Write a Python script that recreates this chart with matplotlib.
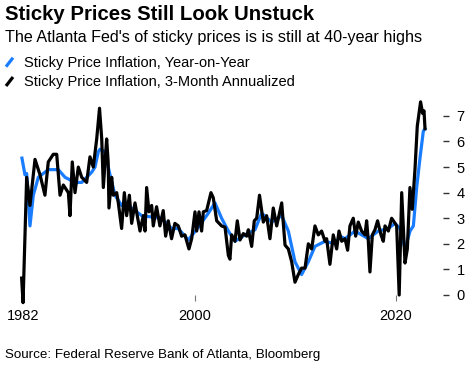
import matplotlib
matplotlib.use("Agg")
import matplotlib.pyplot as plt
from matplotlib.lines import Line2D

plt.rcParams['font.family'] = ['Liberation Sans', 'DejaVu Sans']

# --------------------------------------------------
# Data (decimal years, percent)
# --------------------------------------------------
yoy_years = [1982.78, 1983.08, 1983.25, 1983.58, 1983.91, 1984.41, 1985.40, 1986.40,
             1987.07, 1988.06, 1988.73, 1989.72, 1990.05, 1990.38, 1990.55, 1991.04,
             1991.54, 1992.04, 1992.70, 1993.70, 1994.70, 1995.69, 1996.68, 1997.67,
             1998.33, 1999.34, 2000.33, 2001.33, 2001.99, 2002.65, 2003.32, 2003.98,
             2004.97, 2005.97, 2006.63, 2007.63, 2008.63, 2009.29, 2009.95, 2010.61,
             2011.28, 2011.94, 2012.94, 2013.93, 2014.43, 2014.93, 2015.92, 2017.25,
             2018.24, 2019.24, 2019.90, 2020.40, 2020.90, 2021.40, 2021.73, 2022.06,
             2022.39, 2022.72, 2022.89]
yoy_values = [5.35, 4.7, 4.75, 2.7, 3.9, 4.6, 4.9, 4.9,
              4.6, 4.4, 4.4, 4.8, 5.0, 5.6, 5.7, 5.6,
              4.7, 3.9, 3.5, 3.4, 3.1, 3.05, 3.0, 2.6,
              2.6, 2.15, 2.65, 3.2, 3.6, 3.0, 2.5, 2.1,
              2.35, 2.55, 3.2, 2.85, 3.1, 2.5, 1.3, 0.8,
              1.3, 1.9, 2.1, 2.0, 2.3, 2.2, 2.5, 2.2,
              2.5, 2.6, 2.8, 2.6, 1.8, 2.5, 2.7, 4.2,
              5.35, 6.4, 6.5]

ann_years = [1982.75, 1982.89, 1983.25, 1983.58, 1984.08, 1984.58, 1985.07, 1985.40,
             1985.90, 1986.24, 1986.57, 1986.90, 1987.40, 1987.56, 1987.79, 1988.06,
             1988.39, 1988.73, 1989.22, 1989.55, 1989.88, 1990.22, 1990.50, 1990.72,
             1990.88, 1991.21, 1991.36, 1991.44, 1991.71, 1991.87, 1992.21, 1992.37,
             1992.70, 1992.97, 1993.20, 1993.47, 1993.70, 1994.03, 1994.53, 1994.86,
             1995.03, 1995.19, 1995.42, 1995.69, 1995.85, 1996.18, 1996.51, 1996.84,
             1997.08, 1997.34, 1997.67, 1998.00, 1998.34, 1998.67, 1999.00, 1999.40,
             1999.67, 2000.00, 2000.17, 2000.40, 2000.66, 2000.83, 2001.16, 2001.59,
             2001.82, 2002.16, 2002.65, 2002.99, 2003.32, 2003.48, 2003.65, 2003.98,
             2004.21, 2004.48, 2004.81, 2005.14, 2005.31, 2005.64, 2005.90, 2006.14,
             2006.42, 2006.80, 2007.13, 2007.46, 2007.79, 2008.13, 2008.63, 2008.96,
             2009.29, 2009.62, 2009.95, 2010.28, 2010.61, 2010.95, 2011.28, 2011.61,
             2011.94, 2012.27, 2012.60, 2012.94, 2013.10, 2013.43, 2013.76, 2014.10,
             2014.33, 2014.60, 2014.93, 2015.19, 2015.42, 2015.75, 2015.99, 2016.25,
             2016.58, 2016.92, 2017.08, 2017.25, 2017.41, 2017.65, 2017.91, 2018.17,
             2018.51, 2018.74, 2018.91, 2019.24, 2019.57, 2019.83, 2020.07, 2020.18,
             2020.32, 2020.57, 2020.90, 2021.13, 2021.39, 2021.62, 2021.89, 2022.12,
             2022.45, 2022.65, 2022.79, 2022.89]
ann_values = [0.66, -0.3, 4.6, 3.5, 5.3, 4.7, 3.9, 5.2,
              5.5, 5.5, 3.9, 4.3, 4.0, 3.1, 5.2, 4.0,
              5.0, 4.6, 4.4, 5.4, 5.0, 6.1, 7.3, 6.1,
              4.2, 6.1, 5.2, 3.4, 4.6, 3.9, 4.0, 3.6,
              2.6, 4.0, 3.1, 3.9, 2.8, 3.6, 2.5, 3.1,
              2.5, 4.2, 3.25, 3.5, 2.7, 3.45, 2.7, 3.3,
              2.3, 2.9, 2.2, 2.8, 2.7, 2.3, 2.35, 1.8,
              2.2, 3.25, 2.5, 3.25, 2.5, 3.25, 3.3, 4.0,
              3.8, 2.9, 2.7, 2.65, 1.55, 1.4, 2.35, 2.1,
              2.9, 2.15, 2.4, 2.3, 2.55, 1.9, 2.9, 3.0,
              3.9, 2.85, 3.1, 2.2, 3.4, 2.7, 3.6, 1.95,
              1.8, 1.3, 0.5, 0.8, 1.05, 1.05, 2.0, 1.8,
              2.7, 2.35, 2.5, 2.1, 2.2, 1.2, 2.35, 1.8,
              2.5, 2.1, 2.2, 1.75, 2.7, 3.0, 2.3, 2.85,
              2.5, 2.35, 2.9, 2.1, 0.9, 2.35, 2.55, 2.9,
              2.35, 2.1, 2.7, 2.5, 3.0, 2.85, 2.7, 1.5,
              0.0, 4.0, 1.25, 1.8, 4.2, 3.35, 4.9, 6.6,
              7.55, 7.1, 7.2, 6.5]

x_ticks = [1982.9, 2000, 2020]
x_tick_labels = ['1982', '2000', '2020']
y_ticks = [0, 1, 2, 3, 4, 5, 6, 7]

# --------------------------------------------------
# Figure
# --------------------------------------------------
W, H = 475, 376
fig = plt.figure(figsize=(W / 100, H / 100), dpi=100)

# axes from x=15px to 443px, y=98px (top) to 295px (value 0)
ax = fig.add_axes([15 / W, 1 - 295 / H, (443 - 15) / W, (295 - 98) / H])
ax.set_xlim(1982.09, 2024.68)
ax.set_ylim(0, 7.7)

ax.plot(yoy_years, yoy_values, color='#1a7dff', linewidth=2.3,
        solid_joinstyle='round', clip_on=False, zorder=2)
ax.plot(ann_years, ann_values, color='black', linewidth=2.3,
        solid_joinstyle='round', clip_on=False, zorder=3)

for s in ax.spines.values():
    s.set_visible(False)

ax.yaxis.tick_right()
ax.set_yticks(y_ticks)
ax.set_xticks(x_ticks)
ax.set_xticklabels(x_tick_labels)
ax.tick_params(axis='y', length=4.2, width=1.0, color='#333333', pad=5.5,
               labelsize=10.5, labelcolor='black')
ax.tick_params(axis='x', length=4, width=0.8, color='#777777', pad=6,
               labelsize=10.5, labelcolor='black')

# Titles
fig.text(5 / W, 1 - 19.5 / H, 'Sticky Prices Still Look Unstuck',
         fontsize=14.7, fontweight='bold', va='baseline', ha='left')
fig.text(5 / W, 1 - 41.7 / H,
         "The Atlanta Fed's of sticky prices is is still at 40-year highs",
         fontsize=11.6, va='baseline', ha='left')

# Legend: slanted line icons + text
legend_items = [('Sticky Price Inflation, Year-on-Year', '#1a7dff', 66.7),
                ('Sticky Price Inflation, 3-Month Annualized', 'black', 86.0)]
for label, col, base in legend_items:
    fig.add_artist(Line2D([6 / W, 13 / W], [1 - base / H, 1 - (base - 9) / H],
                          color=col, linewidth=2.3, solid_capstyle='butt'))
    fig.text(24 / W, 1 - base / H, label, fontsize=10.5, va='baseline', ha='left')

# Source
fig.text(5 / W, 1 - 358 / H, 'Source: Federal Reserve Bank of Atlanta, Bloomberg',
         fontsize=9.6, va='baseline', ha='left')

fig.savefig('out.png', dpi=100)
